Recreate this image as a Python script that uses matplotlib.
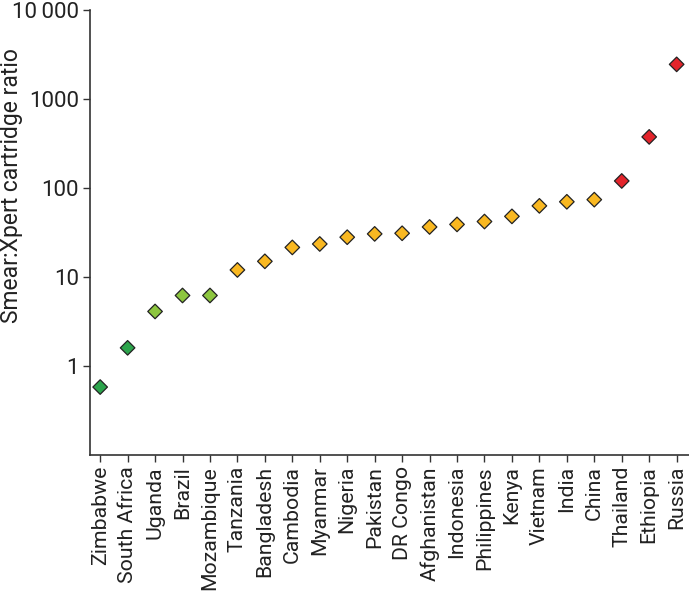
import matplotlib
matplotlib.use("Agg")
import matplotlib.pyplot as plt

plt.rcParams["font.family"] = ["Roboto", "DejaVu Sans"]

countries = ["Zimbabwe", "South Africa", "Uganda", "Brazil", "Mozambique", "Tanzania",
             "Bangladesh", "Cambodia", "Myanmar", "Nigeria", "Pakistan", "DR Congo",
             "Afghanistan", "Indonesia", "Philippines", "Kenya", "Vietnam", "India",
             "China", "Thailand", "Ethiopia", "Russia"]
ratio = [0.58, 1.6, 4.1, 6.2, 6.2, 12, 15, 21.5, 23.5, 28, 30.5, 31,
         36.5, 39, 42, 48, 63, 70, 74, 120, 375, 2450]
group = ["g", "g", "lg", "lg", "lg", "y", "y", "y", "y", "y", "y", "y",
         "y", "y", "y", "y", "y", "y", "y", "r", "r", "r"]
colors = {"g": "#2ca44c", "lg": "#8dc63f", "y": "#f9b821", "r": "#e3242b"}

yticks = [1, 10, 100, 1000, 10000]
yticklabels = ["1", "10", "100", "1000", "10\u2009000"]

fig = plt.figure(figsize=(6.89, 5.92), dpi=100)
ax = fig.add_axes([90 / 689, 1 - 455 / 592, 599 / 689, 445 / 592])

x = range(len(countries))
ax.scatter(x, ratio, marker="D", s=55, c=[colors[g] for g in group],
           edgecolors="#222222", linewidths=0.9, zorder=3)

ax.set_yscale("log")
ax.set_ylim(0.1, 10000)
ax.set_xlim(-0.37, 21.45)
ax.minorticks_off()
ax.set_yticks(yticks)
ax.set_yticklabels(yticklabels, fontsize=16)
ax.set_xticks(list(x))
ax.set_xticklabels(countries, rotation=90, fontsize=15.3)
fig.text(12 / 689, 1 - 186 / 592, "Smear:Xpert cartridge ratio", fontsize=16.5,
         rotation=90, ha="center", va="center", color="#222222")

for s in ["top", "right"]:
    ax.spines[s].set_visible(False)
for s in ["left", "bottom"]:
    ax.spines[s].set_color("#333333")
    ax.spines[s].set_linewidth(1.2)
ax.tick_params(colors="#333333", length=5, width=1, pad=3, labelcolor="#222222")

fig.savefig("out.png", dpi=100)
